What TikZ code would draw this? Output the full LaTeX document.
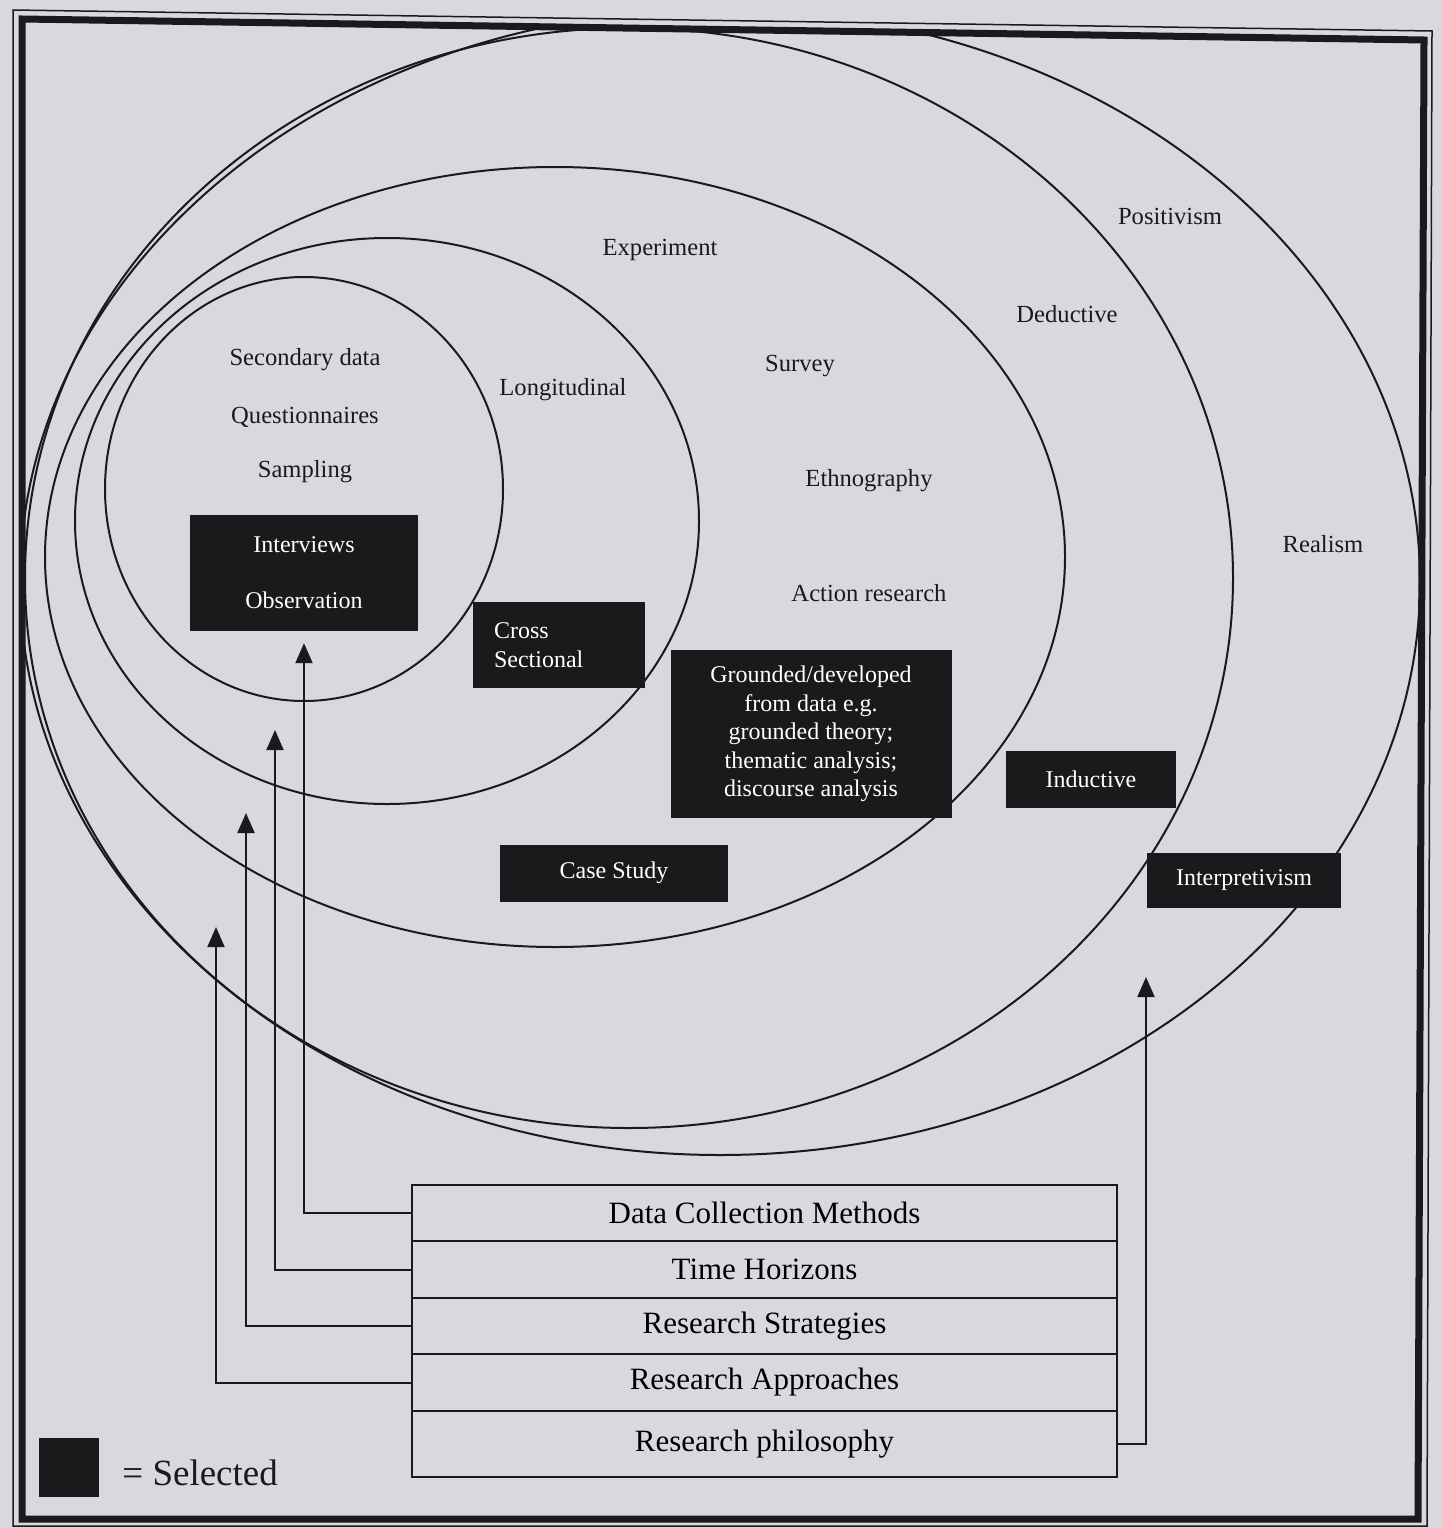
\documentclass[tikz,border=0pt]{standalone}
\usepackage{fontspec}
\setmainfont{Liberation Serif}
\usetikzlibrary{arrows.meta,positioning}
\definecolor{paper}{HTML}{DAD8DE}
\definecolor{ink}{HTML}{1A1A1C}

\begin{document}
\begin{tikzpicture}[x=1pt,y=-1pt,
  onion/.style={draw=ink,line width=2pt},
  lbl/.style={text=ink,font=\fontsize{24.6}{30}\selectfont},
  sel/.style={fill=ink,text=white,inner sep=0pt,align=center,font=\fontsize{24}{28.5}\selectfont},
  row/.style={draw=ink,line width=1.8pt,minimum width=705pt,minimum height=56.5pt,outer sep=0pt,inner sep=0pt,font=\fontsize{31}{37}\selectfont},
  up/.style={draw=ink,line width=2pt,-{Triangle[length=20pt,width=17pt]}}]
  \fill[paper,use as bounding box] (0,0) rectangle (1442,1528);
  % layers of the onion
  \begin{scope}
    \clip (22,19) -- (1424,40) -- (1418,1519) -- (22,1519) -- cycle;
    \draw[onion] (720,582) ellipse [x radius=700,y radius=573];
    \draw[onion] (629,578) ellipse [x radius=604,y radius=550];
    \draw[onion] (555,557) ellipse [x radius=510,y radius=390];
    \draw[onion] (387,521) ellipse [x radius=312,y radius=283];
    \draw[onion] (304,489) ellipse [x radius=199,y radius=212];
  \end{scope}
  % frame
  \draw[ink,line width=7pt] (22,19) -- (1424,40) -- (1418,1519) -- (22,1519) -- cycle;
  \draw[ink,line width=1.5pt] (13,10) -- (1432,31) -- (1427,1526) -- (13,1526) -- cycle;

  \node[lbl] (positivism) at (1170,216) {Positivism};
  \node[lbl] (experiment) at (660,250) {Experiment};
  \node[lbl] (deductive) at (1067,314) {Deductive};
  \node[lbl] (secondary) at (305,360) {Secondary data};
  \node[lbl] (survey) at (800,366) {Survey};
  \node[lbl] (longitudinal) at (563,390) {Longitudinal};
  \node[lbl] (questionnaires) at (305,417) {Questionnaires};
  \node[lbl] (sampling) at (305,472) {Sampling};
  \node[lbl] (ethnography) at (869,481) {Ethnography};
  \node[lbl] (realism) at (1323,544) {Realism};
  \node[lbl] (action) at (869,593) {Action research};

  % selected boxes
  \node[sel,minimum width=228pt,minimum height=116pt,font=\fontsize{24}{56}\selectfont] (obs) at (304,573) {Interviews\\Observation};
  \node[sel,align=left,text width=130pt,inner xsep=21pt,minimum height=86pt] (cross) at (559,645) {Cross\\Sectional};
  \node[sel,minimum width=281pt,minimum height=168pt] (grounded) at (811,734) {Grounded/developed\\from data e.g.\\grounded theory;\\thematic analysis;\\discourse analysis};
  \node[sel,minimum width=170pt,minimum height=57pt] (inductive) at (1091,779) {Inductive};
  \node[sel,minimum width=228pt,minimum height=57pt] (casestudy) at (614,873) {Case Study};
  \node[sel,minimum width=194pt,minimum height=55pt] (interp) at (1244,880) {Interpretivism};

  % legend
  \node[fill=ink,minimum width=60pt,minimum height=59pt,inner sep=0pt] (key) at (69,1467) {};
  \node[right=23pt of key,yshift=-6pt,text=ink,inner sep=0pt,font=\fontsize{37}{44}\selectfont] (keytext) {= Selected};

  % layer table
  \node[row] (dcm) at (764.5,1213) {Data Collection Methods};
  \node[row,below=0pt of dcm] (th) {Time Horizons};
  \node[row,below=0pt of th] (rs) {Research Strategies};
  \node[row,below=0pt of rs] (ra) {Research Approaches};
  \node[row,below=0pt of ra,minimum height=66pt] (rp) {Research philosophy};

  \coordinate (thtip) at (275,730);
  \coordinate (rstip) at (246,813);
  \coordinate (ratip) at (216,927);
  \coordinate (rptip) at (1146,977);
  \draw[up,shorten >=12pt] (dcm.west) -| (obs.south);
  \draw[up] (th.west) -| (thtip);
  \draw[up] (rs.west) -| (rstip);
  \draw[up] (ra.west) -| (ratip);
  \draw[up] (rp.east) -| (rptip);
\end{tikzpicture}
\end{document}
